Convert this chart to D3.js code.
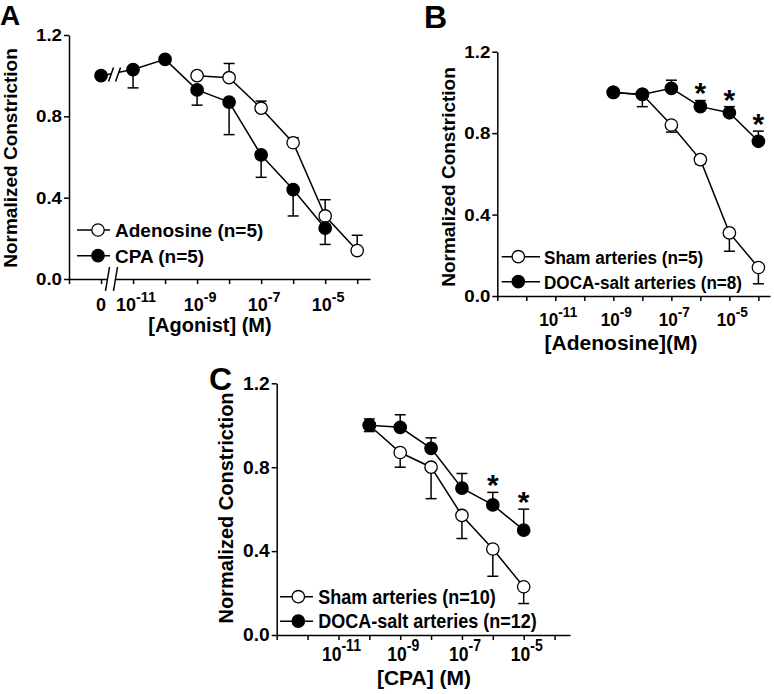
<!DOCTYPE html>
<html><head><meta charset="utf-8">
<script src="https://cdn.jsdelivr.net/npm/d3@7"></script>
<style>
body{margin:0;background:#fff}
text{font-family:"Liberation Sans",Arial,sans-serif;font-weight:bold;fill:#000}
</style>
</head><body>
<svg id="chart" width="774" height="694"></svg>
<script>
// ---------- DATA ----------
// Panel A : [Agonist] (M)
const concA_ado = [1e-9, 1e-8, 1e-7, 1e-6, 1e-5, 1e-4];
const ado_A     = [1.00, 0.99, 0.84, 0.67, 0.31, 0.14];
const ado_A_err = [0.01, 0.07, 0.035, 0.025, 0.08, 0.075];   // drawn upward
const concA_cpa = [0, 1e-11, 1e-10, 1e-9, 1e-8, 1e-7, 1e-6, 1e-5];
const cpa_A     = [1.00, 1.03, 1.08, 0.93, 0.87, 0.61, 0.44, 0.25];
const cpa_A_err = [0.01, 0.09, 0.01, 0.075, 0.16, 0.11, 0.13, 0.08]; // drawn downward
const legendA   = ["Adenosine (n=5)", "CPA (n=5)"];

// Panel B : [Adenosine](M)
const concB      = [1e-9, 1e-8, 1e-7, 1e-6, 1e-5, 1e-4];
const shamB      = [1.00, 0.99, 0.84, 0.67, 0.31, 0.14];
const shamB_err  = [0.01, 0.06, 0.035, 0.02, 0.09, 0.08];    // downward
const docaB      = [1.00, 0.99, 1.02, 0.93, 0.90, 0.76];
const docaB_err  = [0.01, 0.01, 0.04, 0.03, 0.03, 0.05];     // upward
const starsB     = [false, false, false, true, true, true];
const legendB    = ["Sham arteries (n=5)", "DOCA-salt arteries (n=8)"];

// Panel C : [CPA] (M)
const concC      = [1e-10, 1e-9, 1e-8, 1e-7, 1e-6, 1e-5];
const shamC      = [1.00, 0.87, 0.80, 0.57, 0.41, 0.23];
const shamC_err  = [0.03, 0.07, 0.15, 0.11, 0.13, 0.08];     // downward
const docaC      = [1.00, 0.99, 0.89, 0.70, 0.62, 0.50];
const docaC_err  = [0.03, 0.06, 0.05, 0.07, 0.06, 0.10];     // upward
const starsC     = [false, false, false, false, true, true];
const legendC    = ["Sham arteries (n=10)", "DOCA-salt arteries (n=12)"];

// Axes
const yTicks      = [0, 0.4, 0.8, 1.2];
const xTickExps   = [-13, -12, -11, -10, -9, -8, -7, -6, -5, -4];
const xLabelExps  = [-11, -9, -7, -5];
const zeroLabel   = "0";
const axisTitles  = {A: "[Agonist] (M)", B: "[Adenosine](M)", C: "[CPA] (M)"};
const yTitle      = "Normalized Constriction";

// ---------- DRAW ----------
const svg = d3.select("#chart");
const LW = 1.5, R = 6.2, CAP = 5.5;

function zip(c, v, e) { return c.map((d, i) => ({c: d, v: v[i], e: e[i]})); }

function panel(o) {
  const g = svg.append("g");
  const x = d3.scaleLog().domain([1e-13, Math.pow(10, o.xEnd)]).range([o.x0, o.x1]);
  const y = d3.scaleLinear().domain([0, 1.2]).range([o.yb, o.yt]);
  const xp = c => x(c === 0 ? 1e-12 : c);

  // x axis
  const xa = g.append("g").attr("transform", `translate(0,${o.yb})`)
    .call(d3.axisBottom(x).tickValues(xTickExps.map(e => Math.pow(10, e)))
      .tickFormat("").tickSize(5).tickSizeOuter(0));
  xa.selectAll("path,line").attr("stroke", "#000").attr("stroke-width", LW);
  // y axis
  const ya = g.append("g").attr("transform", `translate(${o.x0},0)`)
    .call(d3.axisLeft(y).tickValues(yTicks).tickFormat("").tickSize(5).tickSizeOuter(0));
  ya.selectAll("path,line").attr("stroke", "#000").attr("stroke-width", LW);

  // y tick labels
  yTicks.forEach(t => {
    g.append("text").attr("text-anchor", "end")
      .attr("transform", `translate(${o.x0 - 7},${y(t) + o.ytFont * 0.36}) scale(${o.ytsx},1)`)
      .attr("font-size", o.ytFont).text(d3.format(".1f")(t));
  });
  // x tick labels
  xLabelExps.forEach(e => {
    const t = g.append("text").attr("text-anchor", "middle")
      .attr("transform", `translate(${x(Math.pow(10, e)) + 3},${o.xlBase}) scale(${o.sx},1)`)
      .attr("font-size", o.xlFont);
    t.append("tspan").text("10");
    t.append("tspan").attr("dy", -o.xlFont * 0.5).attr("font-size", o.xlFont * 0.8).text(String(e));
  });

  // titles
  g.append("text").attr("text-anchor", "middle")
    .attr("transform", `translate(${o.xtX},${o.xtY})`).attr("font-size", o.xtFont).text(o.xTitle);
  g.append("text").attr("text-anchor", "middle")
    .attr("transform", `translate(${o.ytX},${o.ytY}) rotate(-90)`).attr("font-size", o.ytitleFont).text(yTitle);
  g.append("text").attr("x", o.lblX).attr("y", o.lblY).attr("font-size", o.lblFont).text(o.label);

  const line = d3.line().x(d => xp(d.c)).y(d => y(d.v));
  o.series.forEach(s => {
    const data = zip(s.c, s.v, s.e);
    // error bars
    data.forEach(d => {
      const yv = y(d.v), ye = y(d.v + s.dir * d.e);
      g.append("line").attr("x1", xp(d.c)).attr("x2", xp(d.c)).attr("y1", yv).attr("y2", ye)
        .attr("stroke", "#000").attr("stroke-width", LW);
      g.append("line").attr("x1", xp(d.c) - CAP).attr("x2", xp(d.c) + CAP).attr("y1", ye).attr("y2", ye)
        .attr("stroke", "#000").attr("stroke-width", LW);
    });
    g.append("path").datum(data).attr("d", line).attr("fill", "none")
      .attr("stroke", "#000").attr("stroke-width", LW);
    if (s.lineBreak) s.lineBreak(g, xp, y, data);
    g.selectAll(null).data(data).enter().append("circle")
      .attr("cx", d => xp(d.c)).attr("cy", d => y(d.v)).attr("r", R)
      .attr("fill", s.filled ? "#000" : "#fff").attr("stroke", "#000").attr("stroke-width", 1.3);
    if (s.stars) {
      data.forEach((d, i) => {
        if (!s.stars[i]) return;
        g.append("text").attr("text-anchor", "middle").attr("font-size", 30)
          .attr("x", xp(d.c)).attr("y", Math.min(y(d.v + d.e), y(d.v) - R) + 3).text("*");
      });
    }
  });

  // legend
  o.legend.forEach((name, i) => {
    const ly = o.legY + i * o.legDy;
    g.append("line").attr("x1", o.legX0).attr("x2", o.legX1).attr("y1", ly).attr("y2", ly)
      .attr("stroke", "#000").attr("stroke-width", LW);
    g.append("circle").attr("cx", o.legC).attr("cy", ly).attr("r", R)
      .attr("fill", i === 0 ? "#fff" : "#000").attr("stroke", "#000").attr("stroke-width", 1.3);
    g.append("text").attr("transform", `translate(${o.legTx},${ly + o.legFont * 0.36}) scale(${o.sx},1)`)
      .attr("font-size", o.legFont).text(name);
  });
  return {g, x, y, xp};
}

// Panel A
const pA = panel({
  x0: 69, x1: 370, xEnd: -3.6, yb: 279, yt: 35,
  ytFont: 17, ytsx: 1.1, xlFont: 18, xlBase: 311, sx: 1,
  xTitle: axisTitles.A, xtX: 210, xtY: 332, xtFont: 20,
  ytX: 17, ytY: 158, ytitleFont: 19,
  label: "A", lblX: 0, lblY: 25, lblFont: 28,
  legend: legendA, legY: 230, legDy: 25.7, legX0: 77, legX1: 110, legC: 98, legTx: 115, legFont: 19,
  series: [
    {c: concA_ado, v: ado_A, e: ado_A_err, dir: 1, filled: false},
    {c: concA_cpa, v: cpa_A, e: cpa_A_err, dir: -1, filled: true,
     lineBreak: (g, xp, y, data) => {
       const xm = (xp(data[0].c) + xp(data[1].c)) / 2 - 2;
       const ym = (y(data[0].v) + y(data[1].v)) / 2 + 2;
       g.append("rect").attr("x", xm - 3.5).attr("y", ym - 4).attr("width", 7).attr("height", 8).attr("fill", "#fff");
       [-4, 3].forEach(dx => g.append("line").attr("x1", xm + dx - 2.5).attr("y1", ym + 7)
         .attr("x2", xm + dx + 2.5).attr("y2", ym - 7).attr("stroke", "#000").attr("stroke-width", LW));
     }}
  ]
});
// "0" label and axis break in A
pA.g.append("text").attr("text-anchor", "middle").attr("x", pA.xp(0)).attr("y", 311)
  .attr("font-size", 18).text(zeroLabel);
(function () {
  const g = pA.g, yb = 279;
  g.append("rect").attr("x", 108).attr("y", yb - 2).attr("width", 7).attr("height", 4).attr("fill", "#fff");
  [[109.5, 105.5], [117.5, 113.5]].forEach(([xt, xb]) =>
    g.append("line").attr("x1", xt).attr("y1", yb - 12).attr("x2", xb).attr("y2", yb + 12)
      .attr("stroke", "#000").attr("stroke-width", LW));
})();

// Panel B
panel({
  x0: 497.3, x1: 770, xEnd: -3.6, yb: 296, yt: 51.7,
  ytFont: 17, ytsx: 1.1, xlFont: 19, xlBase: 326, sx: 0.9,
  xTitle: axisTitles.B, xtX: 621, xtY: 350, xtFont: 21,
  ytX: 455, ytY: 177, ytitleFont: 19,
  label: "B", lblX: 424, lblY: 28, lblFont: 32,
  legend: legendB, legY: 256.7, legDy: 25, legX0: 501.7, legX1: 540, legC: 518.3, legTx: 544, legFont: 19,
  series: [
    {c: concB, v: shamB, e: shamB_err, dir: -1, filled: false},
    {c: concB, v: docaB, e: docaB_err, dir: 1, filled: true, stars: starsB}
  ]
});

// Panel C
panel({
  x0: 276.7, x1: 570, xEnd: -3.5, yb: 635, yt: 383.3,
  ytFont: 17.5, ytsx: 1.1, xlFont: 19.5, xlBase: 661, sx: 0.9,
  xTitle: axisTitles.C, xtX: 424, xtY: 685, xtFont: 21,
  ytX: 233, ytY: 508, ytitleFont: 20,
  label: "C", lblX: 209, lblY: 390, lblFont: 32,
  legend: legendC, legY: 596.7, legDy: 24.5, legX0: 280, legX1: 313, legC: 298.3, legTx: 318.3, legFont: 20,
  series: [
    {c: concC, v: shamC, e: shamC_err, dir: -1, filled: false},
    {c: concC, v: docaC, e: docaC_err, dir: 1, filled: true, stars: starsC}
  ]
});
</script>
</body></html>
